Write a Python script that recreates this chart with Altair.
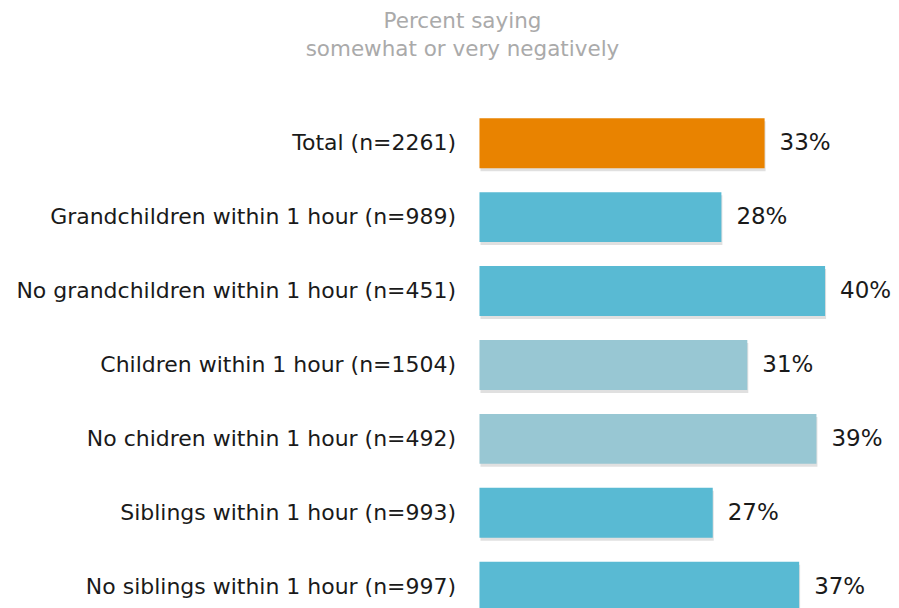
import altair as alt
import pandas as pd

categories = [
    "Total (n=2261)",
    "Grandchildren within 1 hour (n=989)",
    "No grandchildren within 1 hour (n=451)",
    "Children within 1 hour (n=1504)",
    "No chidren within 1 hour (n=492)",
    "Siblings within 1 hour (n=993)",
    "No siblings within 1 hour (n=997)",
]
values = [33, 28, 40, 31, 39, 27, 37]
groups = ["total", "grand", "grand", "child", "child", "sib", "sib"]
group_colors = {"total": "#E98300", "grand": "#59BAD3", "child": "#98C7D3", "sib": "#59BAD3"}

df = pd.DataFrame({
    "category": categories,
    "value": values,
    "group": groups,
    "label": [f"{v}%" for v in values],
})

W = 420
H = 518
xmax = W / 8.65
FONT = "DejaVu Sans"

y = alt.Y("category:N", sort=categories, title=None,
          scale=alt.Scale(paddingInner=24 / 74, paddingOuter=12 / 74),
          axis=alt.Axis(domain=False, ticks=False, labelPadding=24, labelFontSize=22,
                        labelColor="#1a1a1a", labelFont=FONT, labelLimit=480))
x = alt.X("value:Q", scale=alt.Scale(domain=[0, xmax]), axis=None)

base = alt.Chart(df)

shadow = base.mark_bar(color="#000000", opacity=0.12, yOffset=3, xOffset=1).encode(x=x, y=y)
bars = base.mark_bar().encode(
    x=x, y=y,
    color=alt.Color("group:N",
                    scale=alt.Scale(domain=list(group_colors.keys()), range=list(group_colors.values())),
                    legend=None),
)
labels = base.mark_text(align="left", dx=15, fontSize=23, font=FONT, color="#1a1a1a").encode(
    x=x, y=y, text="label:N"
)

chart = alt.layer(shadow, bars, labels).properties(
    width=W, height=H,
    autosize=alt.AutoSizeParams(type="none"),
    padding={"left": 480, "top": 106, "right": 0, "bottom": 0},
    title=alt.TitleParams(
        text=["Percent saying", "somewhat or very negatively"],
        fontSize=21.5, font=FONT, fontWeight="normal", color="#AAAAAA",
        anchor="middle", frame="group", dx=463 - (480 + W / 2), offset=46, lineHeight=28,
    ),
).configure_view(stroke=None)

chart.save("out.html", embed_options={"renderer": "svg", "actions": False})
